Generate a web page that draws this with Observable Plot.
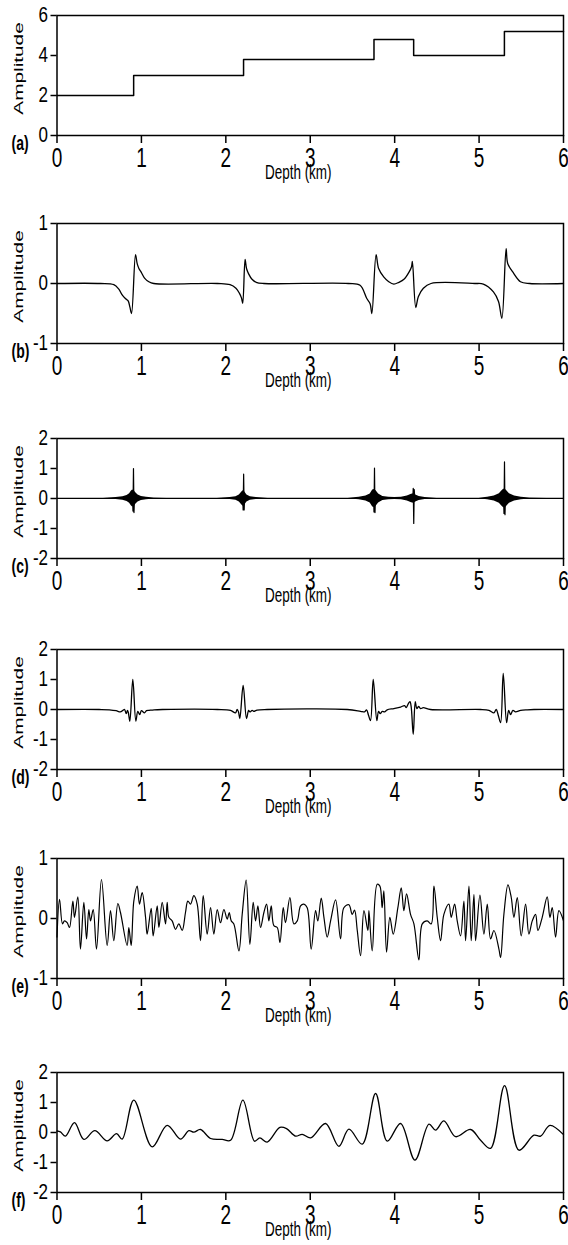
<!DOCTYPE html>
<html><head><meta charset="utf-8">
<script src="https://cdn.jsdelivr.net/npm/d3@7"></script>
<script src="https://cdn.jsdelivr.net/npm/@observablehq/plot@0.6"></script>
<style>
html,body{margin:0;padding:0;background:#fff;overflow:hidden;}
#fig{position:relative;width:568px;height:1245px;overflow:hidden;}
#fig svg{position:absolute;left:0;overflow:visible;}
</style></head><body><div id="fig"></div>
<script>
// ---------- data ----------
const xTicks = [0, 1, 2, 3, 4, 5, 6];
const panelLabels = ["(a)", "(b)", "(c)", "(d)", "(e)", "(f)"];
const xLabel = "Depth (km)";
const yLabel = "Amplitude";
const yDomains = [[0, 6], [-1, 1], [-2, 2], [-2, 2], [-1, 1], [-2, 2]];
const yTicks = [[0, 2, 4, 6], [-1, 0, 1], [-2, -1, 0, 1, 2], [-2, -1, 0, 1, 2], [-1, 0, 1], [-2, -1, 0, 1, 2]];

// (a) step model: layer tops and values
const stepDepth = [0, 0.908, 2.21, 3.755, 4.225, 5.30, 6];
const stepAmp   = [2.0, 3.0, 3.8, 4.8, 4.0, 5.2, 5.2];

// (b) [depth, amplitude]
const bTrace = [[0,0],[0.515,0],[0.673,-0.02],[0.73,-0.09],[0.772,-0.19],[0.81,-0.25],[0.843,-0.29],[0.863,-0.39],[0.883,-0.5],
  [0.93,0.48],[0.95,0.33],[0.97,0.25],[0.997,0.19],[1.037,0.09],[1.088,0.03],[1.147,0],[1.9,0],
  [2.05,-0.02],[2.12,-0.08],[2.16,-0.16],[2.185,-0.24],[2.2,-0.33],[2.228,0.4],[2.245,0.25],[2.27,0.16],[2.31,0.07],[2.36,0.02],[2.45,0],[3.45,0],
  [3.59,-0.03],[3.67,-0.25],[3.71,-0.34],[3.73,-0.5],[3.78,0.48],[3.81,0.25],[3.87,0.11],[3.93,0.03],[3.99,-0.01],[4.05,0.02],[4.11,0.07],[4.17,0.19],[4.2,0.28],[4.21,0.37],
  [4.25,-0.4],[4.28,-0.22],[4.34,-0.08],[4.43,0],[4.95,0],[5.05,-0.01],[5.17,-0.14],[5.23,-0.3],[5.27,-0.58],[5.32,0.58],[5.34,0.33],[5.41,0.17],[5.49,0.03],[5.6,0],[6,0]];

// (c) envelope of dense oscillation [depth, half-amplitude] and main spikes [depth, amplitude]
const cEnvelope = [[0,0.01],[0.55,0.01],[0.7,0.03],[0.78,0.06],[0.83,0.1],[0.86,0.16],[0.88,0.24],[0.895,0.28],[0.915,0.26],[0.93,0.2],[0.96,0.12],[1.0,0.07],[1.06,0.04],[1.15,0.02],[1.3,0.01],
  [1.9,0.01],[2.05,0.03],[2.12,0.06],[2.16,0.12],[2.19,0.22],[2.205,0.26],[2.225,0.22],[2.25,0.12],[2.29,0.06],[2.36,0.03],[2.5,0.01],
  [3.45,0.01],[3.58,0.04],[3.66,0.08],[3.71,0.15],[3.74,0.28],[3.76,0.3],[3.78,0.26],[3.81,0.15],[3.86,0.07],[3.93,0.04],[4.0,0.03],[4.08,0.04],[4.15,0.08],[4.2,0.14],[4.225,0.16],[4.25,0.12],[4.29,0.07],[4.36,0.03],[4.5,0.01],
  [5.0,0.01],[5.1,0.04],[5.18,0.08],[5.24,0.16],[5.28,0.28],[5.3,0.32],[5.32,0.28],[5.36,0.16],[5.42,0.08],[5.5,0.04],[5.6,0.02],[5.8,0.01],[6,0.01]];
const cSpikes = [[0,0],[0.895,0],[0.9,-0.42],[0.906,1.0],[0.912,-0.47],[0.918,0],
  [2.2,0],[2.205,-0.38],[2.211,0.81],[2.217,-0.38],[2.222,0],
  [3.75,0],[3.755,-0.45],[3.761,1.01],[3.767,-0.47],[3.772,0],
  [4.215,0],[4.22,0.34],[4.226,-0.83],[4.232,0.3],[4.238,0],
  [5.29,0],[5.295,-0.5],[5.301,1.22],[5.307,-0.54],[5.312,0],[6,0]];

// (d) [depth, amplitude]
const dTrace = [[0,0],[0.5,0],[0.62,-0.01],[0.7,-0.04],[0.75,-0.08],[0.78,-0.03],[0.8,0],[0.82,-0.14],[0.835,-0.03],[0.845,-0.1],[0.863,-0.39],
  [0.898,1.0],[0.934,-0.39],[0.957,-0.06],[0.98,-0.17],[1.0,-0.04],[1.036,-0.11],[1.06,-0.04],[1.09,-0.03],[1.15,-0.01],[1.25,0],
  [1.9,0],[2.055,-0.03],[2.115,-0.11],[2.134,0],[2.15,-0.08],[2.166,-0.3],[2.205,0.8],[2.245,-0.3],[2.27,-0.03],[2.284,-0.08],[2.312,-0.03],[2.33,-0.06],[2.37,-0.02],[2.49,0],
  [3.438,0],[3.596,-0.06],[3.643,-0.08],[3.667,-0.01],[3.69,-0.19],[3.714,-0.37],[3.746,1.0],[3.789,-0.37],[3.809,-0.06],[3.829,-0.14],[3.853,-0.06],[3.88,-0.08],[3.912,-0.01],
  [3.991,0.03],[4.07,0.08],[4.117,0.13],[4.137,0.06],[4.161,0.19],[4.181,0.26],[4.196,0.08],[4.22,-0.83],[4.244,0.26],[4.263,0.03],[4.283,0.1],[4.307,0.03],[4.339,0.06],[4.425,0],
  [5.018,0],[5.117,-0.03],[5.176,-0.11],[5.203,0],[5.227,-0.19],[5.255,-0.44],[5.286,1.2],[5.326,-0.44],[5.35,-0.03],[5.373,-0.17],[5.401,-0.03],[5.432,-0.08],[5.492,-0.03],[5.571,-0.01],[5.65,0],[6,0]];

// (e) [depth, amplitude]
const eTrace = [[0,-0.31],[0.03,0.32],[0.065,-0.09],[0.089,-0.04],[0.12,-0.07],[0.148,-0.15],[0.188,0.29],[0.207,0.02],[0.247,0.36],[0.278,-0.51],[0.318,0.27],[0.35,-0.34],
  [0.377,0.15],[0.397,-0.04],[0.429,0.15],[0.468,-0.51],[0.527,0.65],[0.594,-0.45],[0.634,0.13],[0.673,-0.37],[0.721,0.25],[0.752,0.1],[0.831,-0.45],[0.851,-0.15],[0.879,-0.45],
  [0.91,0.29],[0.95,0.54],[0.977,0.24],[1.009,0.43],[1.049,0.02],[1.068,-0.26],[1.116,0.17],[1.139,-0.29],[1.187,0.21],[1.207,-0.15],[1.246,0.27],[1.286,-0.09],[1.305,0.27],
  [1.325,0.02],[1.364,-0.04],[1.404,-0.18],[1.443,-0.09],[1.483,-0.2],[1.522,0.1],[1.55,0.29],[1.582,0.24],[1.621,0.38],[1.661,0.24],[1.7,-0.37],[1.732,0.38],[1.779,-0.26],
  [1.819,0.18],[1.858,-0.26],[1.898,0.15],[1.937,-0.07],[1.977,0.15],[2.016,-0.01],[2.04,0.1],[2.064,-0.04],[2.095,-0.09],[2.155,-0.54],[2.194,0.07],[2.241,0.64],[2.285,-0.43],
  [2.324,0.27],[2.352,-0.04],[2.38,0.21],[2.411,-0.15],[2.451,0.1],[2.483,0.24],[2.51,-0.04],[2.538,0.21],[2.569,-0.12],[2.609,-0.15],[2.641,-0.4],[2.68,0.18],[2.707,-0.07],
  [2.759,0.35],[2.806,-0.09],[2.846,-0.04],[2.885,0.21],[2.925,0.24],[2.964,0.18],[3.011,-0.51],[3.063,0.13],[3.09,-0.04],[3.13,0.34],[3.162,0.02],[3.201,-0.31],[3.241,-0.04],
  [3.3,0.31],[3.359,-0.34],[3.398,0.18],[3.458,0.23],[3.497,0.07],[3.525,0.14],[3.557,-0.2],[3.596,-0.62],[3.636,0.13],[3.683,-0.2],[3.695,0.13],[3.734,-0.54],[3.793,0.57],
  [3.825,0.54],[3.852,0.18],[3.872,0.46],[3.904,-0.56],[3.943,0.02],[3.983,-0.26],[4.038,0.18],[4.078,0.51],[4.109,0.13],[4.141,0.41],[4.188,0.07],[4.228,-0.09],[4.287,-0.69],
  [4.327,-0.09],[4.386,-0.04],[4.433,-0.09],[4.465,0.54],[4.504,0.02],[4.544,-0.37],[4.583,0.07],[4.642,0.24],[4.67,0.02],[4.71,0.24],[4.741,-0.04],[4.781,-0.29],[4.82,0.29],
  [4.84,-0.37],[4.88,0.54],[4.907,-0.37],[4.939,0.4],[4.959,-0.37],[5.01,0.39],[5.057,-0.26],[5.097,0.24],[5.136,-0.34],[5.176,-0.2],[5.235,-0.51],[5.255,-0.65],[5.294,0.07],
  [5.342,0.56],[5.381,0.35],[5.413,0.02],[5.452,0.35],[5.499,-0.29],[5.551,0.24],[5.59,-0.26],[5.63,-0.04],[5.669,0.07],[5.697,-0.2],[5.748,0.02],[5.807,0.36],[5.839,0.02],
  [5.867,0.18],[5.906,-0.31],[5.946,0.13],[6.0,-0.04]];

// (f) [depth, amplitude]
const fTrace = [[0,0.05],[0.04,0.02],[0.1,-0.12],[0.207,0.33],[0.318,-0.23],[0.448,0.06],[0.594,-0.28],[0.705,-0.04],[0.772,-0.22],[0.91,1.08],[1.127,-0.48],[1.305,0.24],
  [1.463,-0.22],[1.562,0.06],[1.621,0.01],[1.7,0.1],[1.819,-0.2],[1.957,-0.23],[2.056,-0.26],[2.202,1.08],[2.34,-0.29],[2.403,-0.18],[2.49,-0.32],[2.64,0.17],[2.719,0.13],
  [2.826,-0.12],[2.905,-0.06],[3.004,-0.18],[3.181,0.3],[3.339,-0.46],[3.458,0.11],[3.616,-0.39],[3.774,1.3],[3.912,-0.29],[4.07,0.3],[4.24,-0.92],[4.406,0.28],[4.485,0.08],
  [4.583,0.39],[4.722,-0.14],[4.899,0.1],[5.018,-0.26],[5.136,-0.53],[5.302,1.56],[5.472,-0.59],[5.65,-0.09],[5.729,-0.12],[5.839,0.24],[6.0,-0.07]];

// ---------- layout ----------
const frameTops = [15, 223, 438, 649, 858, 1072];
const W = 568, FH = 120, MT = 15, MB = 55, ML = 56.5, MR = 5;
const toRows = arr => arr.map(([x, y]) => ({x, y}));
const stepRows = stepDepth.map((x, i) => ({x, y: stepAmp[i]}));
const lineOpts = {x: "x", y: "y", stroke: "black", strokeWidth: 1.3};

const panelMarks = [
  [Plot.line(stepRows, {...lineOpts, strokeWidth: 1.5, curve: "step-after"})],
  [Plot.line(toRows(bTrace), {...lineOpts, curve: "catmull-rom"})],
  [Plot.areaY(toRows(cEnvelope), {x: "x", y1: d => -d.y, y2: d => d.y, fill: "black"}),
   Plot.line(toRows(cSpikes), {...lineOpts, strokeWidth: 1.2})],
  [Plot.line(toRows(dTrace), {...lineOpts, curve: "catmull-rom"})],
  [Plot.line(toRows(eTrace), {...lineOpts, strokeWidth: 1.2, curve: "catmull-rom"})],
  [Plot.line(toRows(fTrace), {...lineOpts, curve: "catmull-rom"})]
];

function addT(el, pre, post) {
  const t = el.getAttribute("transform") || "";
  el.setAttribute("transform", (pre ? pre + " " : "") + t + (post ? " " + post : ""));
}
function stripArrow(el) {
  el.textContent = el.textContent.replace(/[\u2190-\u21FF]/g, "").trim();
}

const fig = document.getElementById("fig");
panelMarks.forEach((marks, i) => {
  const svg = Plot.plot({
    width: W, height: FH + MT + MB,
    marginLeft: ML, marginRight: MR, marginTop: MT, marginBottom: MB,
    style: {fontFamily: "'Liberation Sans', Arial, sans-serif", color: "black", background: "transparent", overflow: "visible"},
    x: {domain: [0, 6]},
    y: {domain: yDomains[i]},
    marks: [
      ...marks,
      Plot.frame({stroke: "black", strokeWidth: 1.5}),
      Plot.axisX({ticks: xTicks, tickSize: 8, tickPadding: 4, strokeWidth: 1.5, tickFormat: d => String(d),
        label: xLabel, labelAnchor: "center", labelArrow: "none", labelOffset: 43}),
      Plot.axisY({ticks: yTicks[i], tickSize: 6, tickPadding: 3, strokeWidth: 1.5, tickFormat: d => String(d),
        label: yLabel, labelAnchor: "center", labelArrow: "none", labelOffset: 43}),
      Plot.text([panelLabels[i]], {text: d => d, frameAnchor: "bottom-left", dx: -45.5, dy: 14, textAnchor: "start", fontWeight: "bold"})
    ]
  });
  svg.style.top = (frameTops[i] - MT) + "px";
  svg.querySelectorAll('g[aria-label="y-axis tick label"] text').forEach(t => { t.setAttribute("font-size", 17); addT(t, "", "scale(1,1.25)"); });
  svg.querySelectorAll('g[aria-label="x-axis tick label"] text').forEach(t => { t.setAttribute("font-size", 19); addT(t, "", "scale(1,1.45)"); });
  svg.querySelectorAll('g[aria-label="x-axis label"] text').forEach(t => { stripArrow(t); t.setAttribute("font-size", 13.5); addT(t, "translate(-12,0)", "scale(1,1.5)"); });
  svg.querySelectorAll('g[aria-label="y-axis label"] text').forEach(t => { stripArrow(t); t.setAttribute("font-size", 13); addT(t, "translate(0,-7)", "scale(1.6,1)"); });
  svg.querySelectorAll('g[aria-label="text"] text').forEach(t => { t.setAttribute("font-size", 14); addT(t, "", "scale(1,1.4)"); });
  fig.appendChild(svg);
});
</script></body></html>
